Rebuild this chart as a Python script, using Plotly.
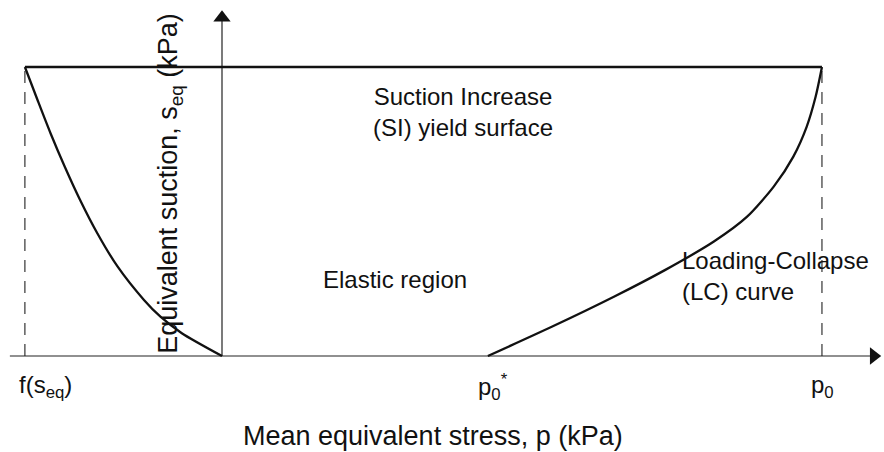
import plotly.graph_objects as go

# ---------------- data (arbitrary units, s_top = 100) ----------------
s_top = 100.0
p_f = -68.2        # f(s_eq)
p_star = 92.0      # p0*
p_0 = 207.6        # p0

# SI yield surface (horizontal line)
si_p = [p_f, p_0]
si_s = [s_top, s_top]

# left curve from f(s_eq) at top down to origin
left_p = [-68.2, -63.8, -59.3, -54.4, -49.1, -43.1, -36.1, -27.0, -21.3, -13.9, 0.0]
left_s = [100.0, 88.5, 77.0, 65.5, 54.0, 42.4, 30.9, 19.4, 13.6, 7.9, 0.0]

# LC curve from p0* on the axis up to p0 at the top
lc_p = [92.0, 114.1, 135.6, 153.4, 170.2, 181.7, 190.9, 197.7, 202.3, 205.4, 207.6]
lc_s = [0.0, 10.1, 20.5, 29.8, 39.6, 48.2, 58.6, 69.0, 79.3, 89.7, 100.0]

tick_labels = ["f(s<sub>eq</sub>)", "p<sub>0</sub><sup>*</sup>", "p<sub>0</sub>"]
tick_pos = [p_f, p_star, p_0]

# ---------------- layout geometry ----------------
W, H = 884, 452
PX = 2.89                 # pixels per unit
X0_PX, Y0_PX = 222, 356   # pixel of origin
xr = [-X0_PX / PX, (W - X0_PX) / PX]
yr = [(Y0_PX - H) / PX, Y0_PX / PX]

FONT = "Liberation Sans, Arial, Helvetica, sans-serif"
INK = "#111111"

fig = go.Figure()

# axes lines
fig.add_trace(go.Scatter(x=[-73.4, 224.5], y=[0, 0], mode="lines",
                         line=dict(color="#222222", width=1.2), hoverinfo="skip"))
fig.add_trace(go.Scatter(x=[0, 0], y=[0, 116.5], mode="lines",
                         line=dict(color="#222222", width=1.2), hoverinfo="skip"))
# arrow heads
fig.add_trace(go.Scatter(x=[225.5], y=[0], mode="markers",
                         marker=dict(symbol="triangle-right", size=15, color="#111111",
                                     line=dict(width=0)), hoverinfo="skip"))
fig.add_trace(go.Scatter(x=[0], y=[117.0], mode="markers",
                         marker=dict(symbol="triangle-up", size=15, color="#111111",
                                     line=dict(width=0)), hoverinfo="skip"))

# dashed verticals
for pv in [p_f, p_0]:
    fig.add_trace(go.Scatter(x=[pv, pv], y=[0, s_top], mode="lines",
                             line=dict(color="#222222", width=1.1, dash="12px,9px"),
                             hoverinfo="skip"))

# SI line
fig.add_trace(go.Scatter(x=si_p, y=si_s, mode="lines",
                         line=dict(color=INK, width=2.7), hoverinfo="skip"))
# left curve
fig.add_trace(go.Scatter(x=left_p, y=left_s, mode="lines", line_shape="spline",
                         line=dict(color=INK, width=2.3, smoothing=0.7), hoverinfo="skip"))
# LC curve
fig.add_trace(go.Scatter(x=lc_p, y=lc_s, mode="lines", line_shape="spline",
                         line=dict(color=INK, width=2.3, smoothing=0.7), hoverinfo="skip"))

ann = []
def A(text, x, y, size=24, xanchor="center", align="center", angle=0):
    ann.append(dict(text=text, x=x, y=y, xref="x", yref="y", showarrow=False,
                    xanchor=xanchor, yanchor="middle", align=align, textangle=angle,
                    font=dict(family=FONT, size=size, color=INK)))

A("Suction Increase<br>(SI) yield surface", 83.4, 84.3)
A("Elastic region", 59.9, 26.3)
A("Loading-Collapse<br>(LC) curve", 158.5, 27.7, xanchor="left", align="left")
for t, pv, dx in zip(tick_labels, tick_pos, [7.0, 1.8, 0.3]):
    A(t, pv + dx, -10.7)
A("Mean equivalent stress, p (kPa)", 73.0, -27.7, size=27)
A("Equivalent suction, s<sub>eq</sub> (kPa)", -18.0, 59.9, size=27, angle=-90)

fig.update_layout(
    width=W, height=H,
    margin=dict(l=0, r=0, t=0, b=0),
    paper_bgcolor="white", plot_bgcolor="white",
    showlegend=False,
    xaxis=dict(range=xr, visible=False, fixedrange=True),
    yaxis=dict(range=yr, visible=False, fixedrange=True),
    annotations=ann,
)

fig.write_html(
    "out.html",
    config={"displayModeBar": False},
    post_script="document.body.style.margin='0';document.body.style.overflow='hidden';",
)
